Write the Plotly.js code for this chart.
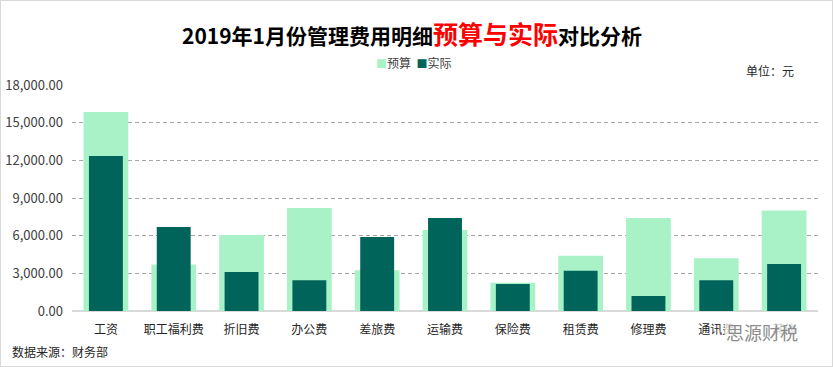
<!DOCTYPE html>
<html>
<head>
<meta charset="utf-8">
<script src="https://cdn.plot.ly/plotly-3.0.1.min.js"></script>
<style>
html,body{margin:0;padding:0;background:#fff;}
#chart{width:831px;height:365px;border:1px solid #d9d9d9;}
</style>
</head>
<body>
<div id="chart"></div>
<script>
const categories = ["工资","职工福利费","折旧费","办公费","差旅费","运输费","保险费","租赁费","修理费","通讯费","其他"];
const budget = [15850, 3700, 6050, 8200, 3250, 6450, 2250, 4400, 7400, 4200, 8000];
const actual = [12350, 6700, 3100, 2450, 5900, 7400, 2150, 3200, 1200, 2450, 3750];
const seriesNames = ["预算","实际"];
const seriesColors = ["#a9f2c7","#00645a"];
const yTicks = [0, 3000, 6000, 9000, 12000, 15000, 18000];

const font = "'Noto Sans CJK SC', 'Noto Sans', sans-serif";

const traces = [
  {type:"bar", name:seriesNames[0], x:categories, y:budget, width:0.66,
   marker:{color:seriesColors[0]}, hoverinfo:"x+y"},
  {type:"bar", name:seriesNames[1], x:categories, y:actual, width:0.5,
   marker:{color:seriesColors[1]}, hoverinfo:"x+y"}
];

const legendText = seriesNames.map((n,i)=>"<span style='color:"+seriesColors[i]+";font-size:11px'>■</span>"+n).join("  ");

const layout = {
  width:831, height:365,
  margin:{l:71, r:14, t:84, b:55},
  paper_bgcolor:"#fff", plot_bgcolor:"#fff",
  barmode:"overlay",
  font:{family:font, size:12, color:"#404040"},
  showlegend:false,
  xaxis:{type:"category", showline:false, ticks:"", tickfont:{size:12, color:"#262626"},
         ticklabelstandoff:10, showgrid:false, zeroline:false},
  yaxis:{range:[0,18000], tickvals:yTicks, tickformat:",.2f", showgrid:true,
         gridcolor:"#a6a6a6", griddash:"4px,3px", gridwidth:1,
         zeroline:true, zerolinecolor:"#d9d9d9", zerolinewidth:1.5,
         showline:false, ticks:"", ticklen:0, ticklabelstandoff:8,
         tickfont:{size:13, color:"#404040"}},
  annotations:[
    {xref:"paper", yref:"paper", x:0.456, y:1.232, xanchor:"center", yanchor:"middle", showarrow:false,
     text:"<b>2019年1月份管理费用明细<span style='color:#ff0000;font-size:25px'>预算与实际</span>对比分析</b>",
     font:{size:21, color:"#000", family:font}},
    {xref:"paper", yref:"paper", x:0.458, y:1.1, xanchor:"center", yanchor:"middle", showarrow:false,
     text:legendText, font:{size:12, color:"#404040", family:font}},
    {xref:"paper", yref:"paper", x:0.97, y:1.066, xanchor:"right", yanchor:"middle", showarrow:false,
     text:"单位：元", font:{size:12, color:"#262626", family:font}},
    {xref:"paper", yref:"paper", x:-0.083, y:-0.181, xanchor:"left", yanchor:"middle", showarrow:false,
     text:"数据来源：财务部", font:{size:12, color:"#262626", family:font}},
    {xref:"paper", yref:"paper", x:0.925, y:-0.095, xanchor:"center", yanchor:"middle", showarrow:false,
     text:"思源财税", bgcolor:"rgba(255,255,255,0.8)",
     font:{size:18, color:"#8c8c8c", family:font}}
  ]
};

Plotly.newPlot("chart", traces, layout, {displayModeBar:false, staticPlot:true});
</script>
</body>
</html>
